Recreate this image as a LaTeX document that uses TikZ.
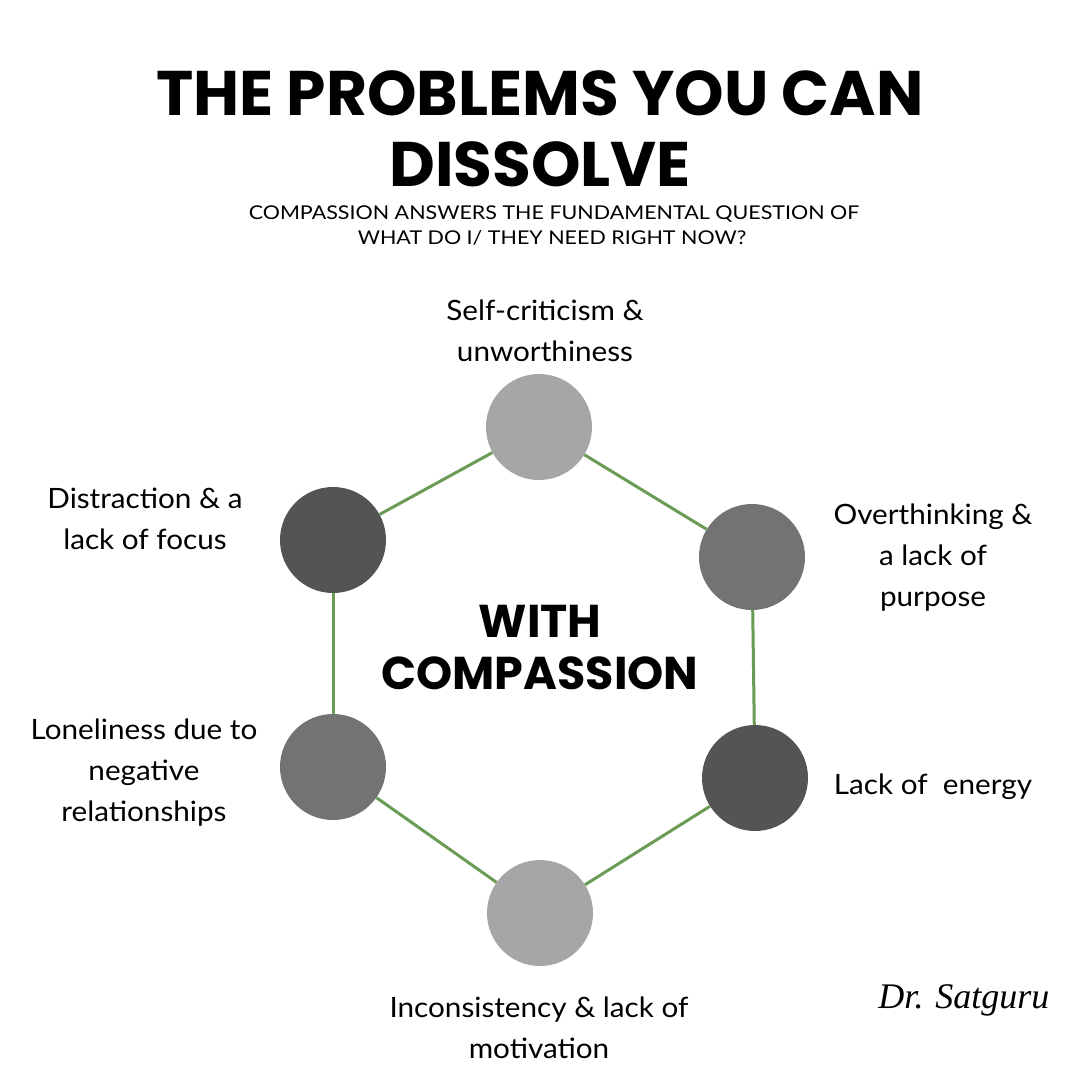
\documentclass[tikz,border=0pt]{standalone}
\usepackage{fontspec}
\setmainfont{Lato}[FakeStretch=1.06]
\newfontfamily\titlefont{Poppins}
\newfontfamily\subfont{Lato}[FakeStretch=1.13]
\newfontfamily\sigfont{Liberation Serif}
\definecolor{lightg}{HTML}{A6A6A6}
\definecolor{midg}{HTML}{737373}
\definecolor{darkg}{HTML}{545454}
\definecolor{edgegreen}{HTML}{6A9C55}
\tikzset{
  dot/.style={circle, minimum size=106pt, inner sep=0pt},
  link/.style={draw=edgegreen, line width=3pt},
  lbl/.style={align=center, font=\fontsize{28}{41}\selectfont, inner sep=0pt},
}
\begin{document}
\begin{tikzpicture}[x=1pt,y=-1pt]
\fill[white] (0,0) rectangle (1080,1080);
\useasboundingbox (0,0) rectangle (1080,1080);
% title
\node[font=\titlefont\bfseries\fontsize{63}{72}\selectfont, inner sep=0pt, anchor=base] (t1) at (540,115) {THE PROBLEMS YOU CAN};
\node[font=\titlefont\bfseries\fontsize{63}{72}\selectfont, inner sep=0pt, anchor=base] (t2) at (540,186) {DISSOLVE};
\node[font=\subfont\fontsize{19}{25}\selectfont, inner sep=0pt, anchor=base] (s1) at (554,219) {COMPASSION ANSWERS THE FUNDAMENTAL QUESTION OF};
\node[font=\subfont\fontsize{19}{25}\selectfont, inner sep=0pt, anchor=base] (s2) at (552,244) {WHAT DO I/ THEY NEED RIGHT NOW?};
% circles
\node[dot, fill=lightg] (top) at (539,427) {};
\node[dot, fill=darkg] (ul) at (333,540) {};
\node[dot, fill=midg] (ur) at (752,557) {};
\node[dot, fill=midg] (ll) at (333,767) {};
\node[dot, fill=darkg] (lr) at (755,778) {};
\node[dot, fill=lightg] (bot) at (540,913) {};
% links
\draw[link] (top) -- (ul);
\draw[link] (top) -- (ur);
\draw[link] (ur) -- (lr);
\draw[link] (ul) -- (ll);
\draw[link] (ll) -- (bot);
\draw[link] (bot) -- (lr);
% center
\node[font=\titlefont\bfseries\fontsize{46}{52}\selectfont, align=center, inner sep=0pt] (ctr) at (540,648) {WITH\\COMPASSION};
% labels
\node[lbl] (ltop) at (545,331) {Self-criticism \&\\unworthiness};
\node[lbl] (lul) at (145,519) {Distraction \& a\\lack of focus};
\node[lbl] (lur) at (933,558) {Overthinking \&\\a lack of\\purpose};
\node[lbl] (lll) at (144,773) {Loneliness due to\\negative\\relationships};
\node[lbl] (llr) at (933,787) {Lack of\ \ energy};
\node[lbl] (lbot) at (539,1028) {Inconsistency \& lack of\\motivation};
% signature
\node[font=\sigfont\itshape\fontsize{36}{40}\selectfont, inner sep=0pt] (sig) at (964,1000) {Dr. Satguru};
\end{tikzpicture}
\end{document}
